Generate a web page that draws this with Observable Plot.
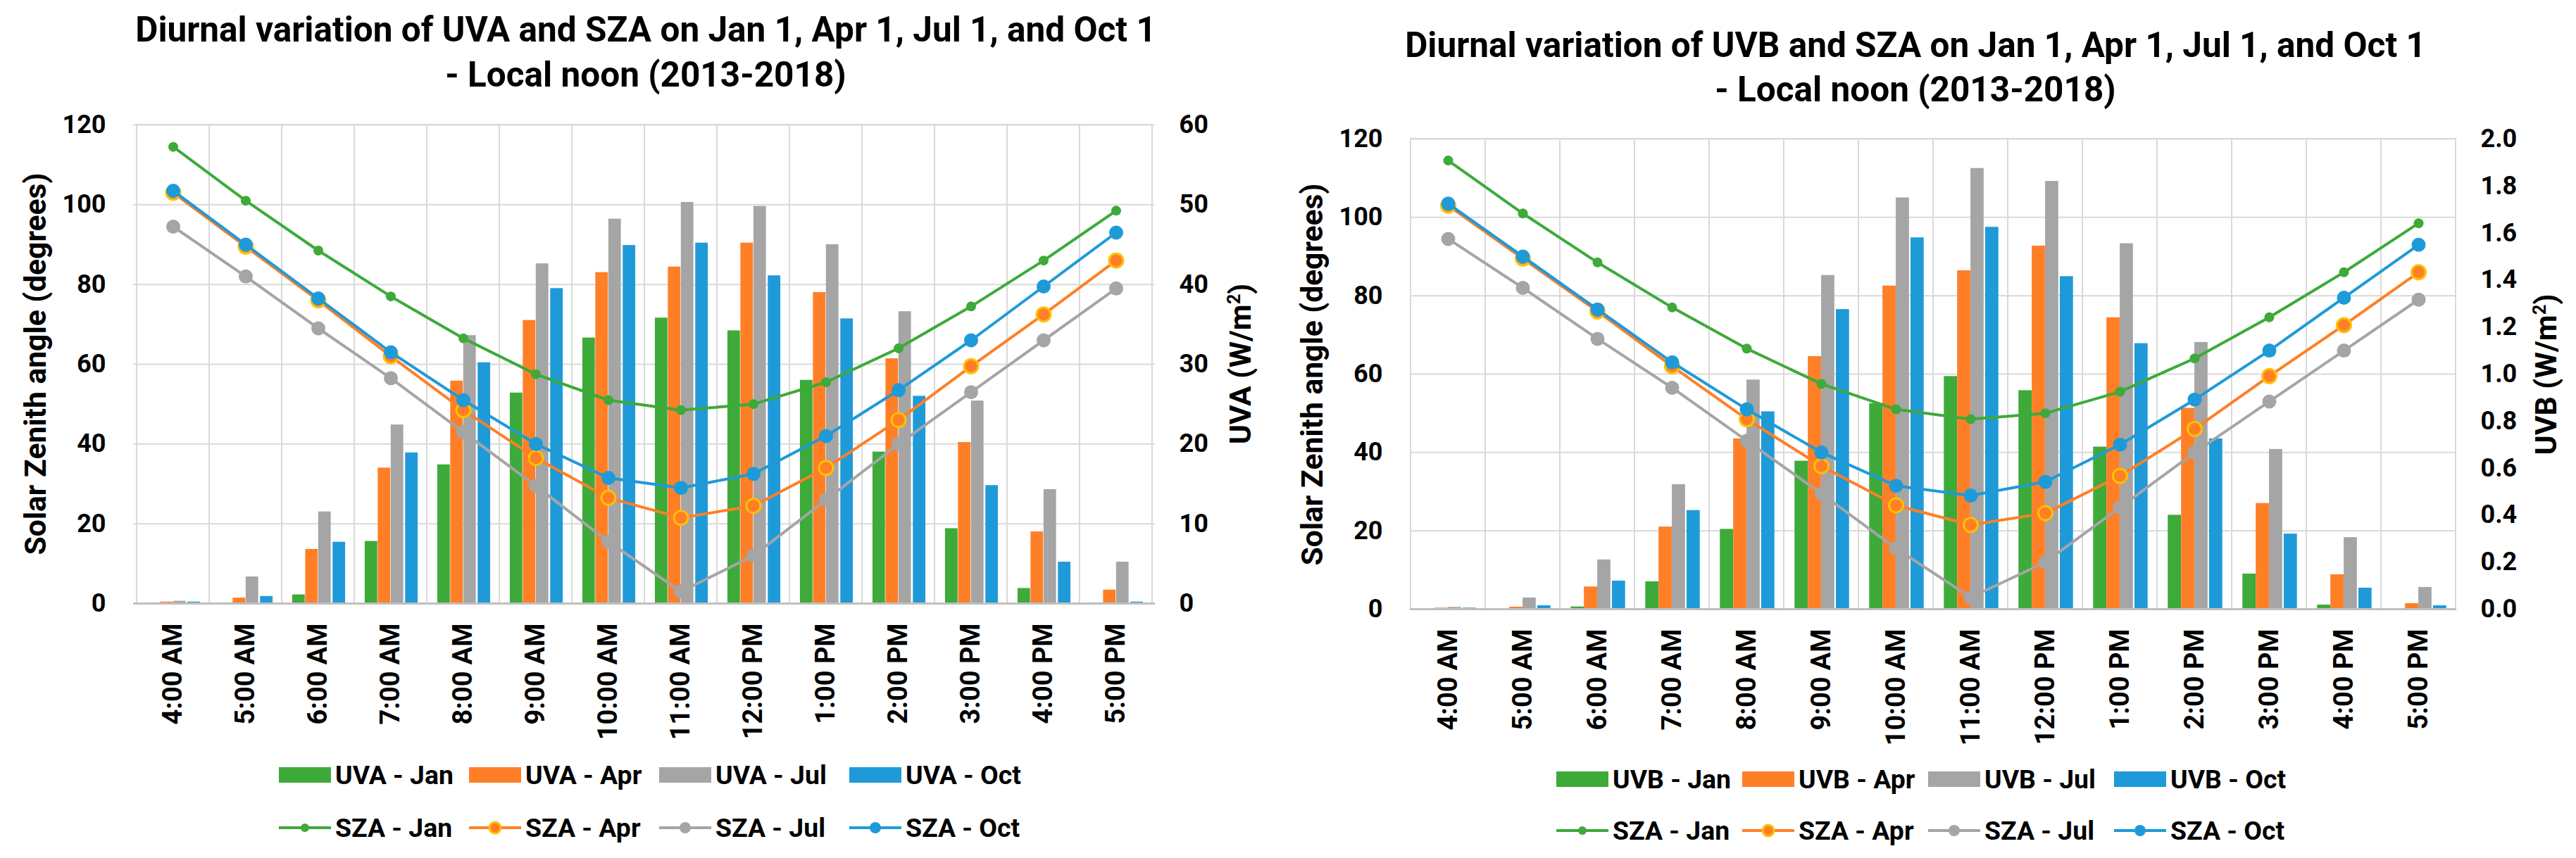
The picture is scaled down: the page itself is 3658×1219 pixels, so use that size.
<!DOCTYPE html>
<html><head><meta charset="utf-8">
<script src="https://cdn.jsdelivr.net/npm/d3@7"></script>
<script src="https://cdn.jsdelivr.net/npm/@observablehq/plot@0.6"></script>
<style>
body{margin:0;background:#fff;}
#root{position:relative;width:3658px;height:1219px;overflow:hidden;background:#fff;}
.c{position:absolute;white-space:nowrap;color:#000;font-weight:bold;transform:translate(-50%,-50%);line-height:1;}
.r{position:absolute;white-space:nowrap;color:#000;font-weight:bold;transform:translate(-50%,-50%) rotate(-90deg);line-height:1;}
.leg{position:absolute;display:flex;align-items:center;height:44px;white-space:nowrap;color:#000;font-weight:bold;}
.plot{position:absolute;}
</style></head><body><div id="root"></div>
<script>
const FONT = '"Liberation Sans Narrow", Roboto, "DejaVu Sans", sans-serif';

const times = ["4:00 AM","5:00 AM","6:00 AM","7:00 AM","8:00 AM","9:00 AM","10:00 AM","11:00 AM","12:00 PM","1:00 PM","2:00 PM","3:00 PM","4:00 PM","5:00 PM"];
const months = ["Jan","Apr","Jul","Oct"];

// UVA (W/m2)
const uvaJan = [0.1,0.1,1.1,7.8,17.4,26.4,33.3,35.8,34.2,28.0,19.0,9.4,1.9,0.1];
const uvaApr = [0.2,0.7,6.8,17.0,27.9,35.5,41.5,42.2,45.2,39.0,30.7,20.2,9.0,1.7];
const uvaJul = [0.3,3.35,11.5,22.4,33.6,42.6,48.2,50.3,49.8,45.0,36.6,25.4,14.3,5.2];
const uvaOct = [0.2,0.9,7.7,18.9,30.2,39.5,44.9,45.2,41.1,35.7,26.0,14.8,5.2,0.2];

// UVB (W/m2)
const uvbJan = [0.002,0.002,0.01,0.117,0.34,0.63,0.875,0.99,0.93,0.69,0.40,0.15,0.018,0.002];
const uvbApr = [0.005,0.009,0.095,0.35,0.725,1.075,1.375,1.44,1.545,1.24,0.855,0.45,0.147,0.024];
const uvbJul = [0.008,0.048,0.21,0.53,0.975,1.42,1.75,1.875,1.82,1.555,1.135,0.68,0.305,0.093];
const uvbOct = [0.005,0.015,0.12,0.42,0.84,1.275,1.58,1.625,1.415,1.13,0.725,0.32,0.09,0.015];

// Solar zenith angle (degrees)
const szaJan = [114.5,101,88.5,77,66.5,57.5,51,48.5,50,55.5,64,74.5,86,98.5];
const szaApr = [103,89.5,76,62,48.5,36.5,26.5,21.5,24.5,34,46,59.5,72.5,86];
const szaJul = [94.5,82,69,56.5,43,29.5,15.5,3,12,26,40,53,66,79];
const szaOct = [103.5,90,76.5,63,51,40,31.5,29,32.5,42,53.5,66,79.5,93];

const szaTicks = [0,20,40,60,80,100,120];
const uvaTicks = [0,10,20,30,40,50,60];
const uvaTickLabels = ["0","10","20","30","40","50","60"];
const uvbTicks = [0,0.2,0.4,0.6,0.8,1.0,1.2,1.4,1.6,1.8,2.0];
const uvbTickLabels = ["0.0","0.2","0.4","0.6","0.8","1.0","1.2","1.4","1.6","1.8","2.0"];

const colors = ["#3DAA3A","#FF7F27","#A5A5A5","#1F9AD8"];
const markerR = [7,10,10,10];

const ctx = document.createElement("canvas").getContext("2d");
function fit(text, target){ ctx.font = `bold 100px ${FONT}`; return 100*target/ctx.measureText(text).width; }

const fsTitle = fit("Diurnal variation of UVA and SZA on Jan 1, Apr 1, Jul 1, and Oct 1", 1450);
const fsTick = fit("120", 62);
const fsXTick = fit("4:00 AM", 144);
const fsAxis = fit("Solar Zenith angle (degrees)", 543);
const fsLeg = fit("UVA - Jan", 168);

const root = document.getElementById("root");
root.style.fontFamily = FONT;

function addDiv(cls, text, x, y, fs){
  const d = document.createElement("div");
  d.className = cls; d.textContent = text;
  d.style.left = x+"px"; d.style.top = y+"px"; d.style.fontSize = fs+"px";
  root.appendChild(d); return d;
}

function chart(cfg){
  const {name, bars, factor, rTicks, rLabels, left, top, width, height, mL, mR, mT, mB} = cfg;
  const sza = [szaJan, szaApr, szaJul, szaOct];
  const bw = (width - mL - mR) / times.length;
  const barW = bw * 0.178;
  const inset = (bw - barW) / 2;
  const barMarks = months.map((m, k) => Plot.barY(
    times.map((t, i) => ({time: t, v: bars[k][i] * factor})),
    {x: "time", y: "v", fill: colors[k], insetLeft: inset, insetRight: inset, dx: (k - 1.5) * barW + (k === 3 ? 2 : 0)}
  ));
  const lineMarks = months.flatMap((m, k) => {
    const rows = times.map((t, i) => ({time: t, v: sza[k][i]}));
    return [
      Plot.line(rows, {x: "time", y: "v", stroke: colors[k], strokeWidth: 4}),
      Plot.dot(rows, {x: "time", y: "v", r: markerR[k], fill: colors[k], stroke: k === 1 ? "#FFC000" : colors[k], strokeWidth: k === 1 ? 3 : 0})
    ];
  });
  const rPos = rTicks.map(v => v * factor);
  const svg = Plot.plot({
    width, height, marginLeft: mL, marginRight: mR, marginTop: mT, marginBottom: mB,
    style: {fontFamily: FONT, fontWeight: "bold", color: "#000", background: "transparent", overflow: "visible"},
    x: {type: "band", domain: times, padding: 0},
    y: {domain: [0, 120]},
    marks: [
      Plot.barY(times, {x: d => d, y1: 0, y2: 120, fill: "none", stroke: "#D9D9D9", strokeWidth: 2}),
      Plot.ruleY(szaTicks, {stroke: "#D9D9D9", strokeWidth: 2}),
      ...barMarks,
      Plot.ruleY([0], {stroke: "#BFBFBF", strokeWidth: 3}),
      ...lineMarks,
      Plot.axisX({tickRotate: -90, tickSize: 0, tickPadding: 28, fontSize: fsXTick, fontWeight: "bold", label: null}),
      Plot.axisY(szaTicks, {anchor: "left", tickSize: 0, tickPadding: 39, fontSize: fsTick, fontWeight: "bold", label: null}),
      Plot.axisY(rPos, {anchor: "right", tickSize: 0, tickPadding: 34, fontSize: fsTick, fontWeight: "bold", label: null,
        tickFormat: d => rLabels[rPos.indexOf(d)]})
    ]
  });
  svg.classList.add("plot");
  svg.style.left = left + "px"; svg.style.top = top + "px";
  root.appendChild(svg);
}

chart({name: "UVA", bars: [uvaJan, uvaApr, uvaJul, uvaOct], factor: 2, rTicks: uvaTicks, rLabels: uvaTickLabels,
  left: 0, top: 140, width: 1829, height: 930, mL: 189, mR: 189, mT: 37, mB: 213});
chart({name: "UVB", bars: [uvbJan, uvbApr, uvbJul, uvbOct], factor: 60, rTicks: uvbTicks, rLabels: uvbTickLabels,
  left: 1829, top: 160, width: 1829, height: 918, mL: 173, mR: 170, mT: 37, mB: 213});

// titles
addDiv("c", "Diurnal variation of UVA and SZA on Jan 1, Apr 1, Jul 1, and Oct 1", 917, 43, fsTitle);
addDiv("c", "- Local noon (2013-2018)", 917, 107, fsTitle);
addDiv("c", "Diurnal variation of UVB and SZA on Jan 1, Apr 1, Jul 1, and Oct 1", 2720, 65, fsTitle);
addDiv("c", "- Local noon (2013-2018)", 2720, 128, fsTitle);

// axis titles
addDiv("r", "Solar Zenith angle (degrees)", 50, 517, fsAxis);
const ra = addDiv("r", "", 1761, 517, fsAxis); ra.innerHTML = "UVA (W/m<sup style='font-size:60%'>2</sup>)";
addDiv("r", "Solar Zenith angle (degrees)", 1863, 532, fsAxis);
const rb = addDiv("r", "", 3615, 532, fsAxis); rb.innerHTML = "UVB (W/m<sup style='font-size:60%'>2</sup>)";

// legends
function legend(prefix, x0, pitch, y1, y2){
  months.forEach((m, k) => {
    const a = document.createElement("div");
    a.className = "leg"; a.style.left = (x0 + k*pitch) + "px"; a.style.top = (y1 - 22) + "px"; a.style.fontSize = fsLeg + "px";
    a.innerHTML = `<div style="width:74px;height:22px;background:${colors[k]};margin-right:6px"></div><span>${prefix} - ${m}</span>`;
    root.appendChild(a);
    const b = document.createElement("div");
    b.className = "leg"; b.style.left = (x0 + k*pitch) + "px"; b.style.top = (y2 - 22) + "px"; b.style.fontSize = fsLeg + "px";
    const st = k === 1 ? "#FFC000" : colors[k];
    b.innerHTML = `<svg width="74" height="24" style="margin-right:6px"><line x1="0" x2="74" y1="12" y2="12" stroke="${colors[k]}" stroke-width="4"/><circle cx="37" cy="12" r="${k===0?6:8}" fill="${colors[k]}" stroke="${st}" stroke-width="${k===1?3:0}"/></svg><span>SZA - ${m}</span>`;
    root.appendChild(b);
  });
}
legend("UVA", 396, 270, 1101, 1176);
legend("UVB", 2210, 264, 1107, 1180);
</script></body></html>
